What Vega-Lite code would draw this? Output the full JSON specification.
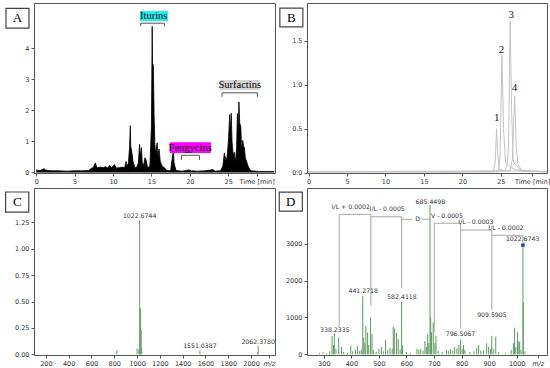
{
  "$schema": "https://vega.github.io/schema/vega-lite/v6.json",
  "padding": {"left": 4, "top": 2, "right": 0, "bottom": 0},
  "background": "white",
  "config": {
    "view": {"stroke": "#555", "strokeWidth": 1},
    "axis": {"labelFont": "DejaVu Sans", "labelFontSize": 6.5, "labelColor": "#333", "tickColor": "#555", "tickSize": 3, "domain": false, "grid": false, "title": null, "labelPadding": 2}
  },
  "bounds": "flush",
  "columns": 2,
  "spacing": {"row": 15, "column": 32},
  "concat": [
        {
          "width": 241, "height": 170,
          "encoding": {
            "x": {"field": "x", "type": "quantitative", "scale": {"domain": [-0.3, 31.1], "nice": false, "zero": false},
                  "axis": {"values": [0, 5, 10, 15, 20, 25, 28.7], "labelExpr": "datum.value > 28 ? 'Time [min]' : datum.label"}},
            "y": {"field": "y", "type": "quantitative", "scale": {"domain": [-0.02, 5.45], "nice": false, "zero": false},
                  "axis": {"values": [0, 1, 2, 3, 4], "format": "d"}}
          },
          "layer": [
            {
              "data": {"values": [
                {"x": 0.0, "y": 0.08}, {"x": 0.3, "y": 0.06}, {"x": 0.6, "y": 0.07}, {"x": 1.0, "y": 0.12}, {"x": 1.2, "y": 0.08}, {"x": 1.6, "y": 0.06}, {"x": 2.0, "y": 0.05}, {"x": 3.0, "y": 0.05}, {"x": 4.0, "y": 0.04}, {"x": 5.0, "y": 0.05}, {"x": 6.0, "y": 0.05}, {"x": 6.8, "y": 0.06},
                {"x": 7.1, "y": 0.12}, {"x": 7.4, "y": 0.15}, {"x": 7.7, "y": 0.3}, {"x": 7.9, "y": 0.15}, {"x": 8.3, "y": 0.17}, {"x": 8.7, "y": 0.15}, {"x": 9.0, "y": 0.18}, {"x": 9.3, "y": 0.15}, {"x": 9.6, "y": 0.22}, {"x": 9.8, "y": 0.15}, {"x": 10.2, "y": 0.25}, {"x": 10.4, "y": 0.14}, {"x": 10.8, "y": 0.15}, {"x": 11.2, "y": 0.17}, {"x": 11.5, "y": 0.15}, {"x": 11.7, "y": 0.35}, {"x": 11.8, "y": 0.18}, {"x": 12.0, "y": 0.3},
                {"x": 12.15, "y": 0.8}, {"x": 12.25, "y": 1.5}, {"x": 12.3, "y": 0.85}, {"x": 12.45, "y": 0.65}, {"x": 12.6, "y": 0.35}, {"x": 12.8, "y": 0.2}, {"x": 13.0, "y": 0.12}, {"x": 13.3, "y": 0.3}, {"x": 13.45, "y": 0.9}, {"x": 13.55, "y": 0.5}, {"x": 13.7, "y": 0.8}, {"x": 13.8, "y": 0.3}, {"x": 14.0, "y": 0.25}, {"x": 14.15, "y": 0.47}, {"x": 14.3, "y": 0.4}, {"x": 14.5, "y": 0.15}, {"x": 14.8, "y": 0.2},
                {"x": 15.0, "y": 1.5}, {"x": 15.1, "y": 4.7}, {"x": 15.15, "y": 3.5}, {"x": 15.25, "y": 3.45}, {"x": 15.35, "y": 1.8}, {"x": 15.45, "y": 0.9}, {"x": 15.55, "y": 0.6}, {"x": 15.75, "y": 0.95}, {"x": 15.85, "y": 0.5}, {"x": 16.0, "y": 0.75}, {"x": 16.15, "y": 0.35}, {"x": 16.4, "y": 0.2}, {"x": 16.7, "y": 0.15}, {"x": 17.0, "y": 0.06}, {"x": 17.5, "y": 0.05}, {"x": 17.85, "y": 0.72}, {"x": 17.95, "y": 0.3}, {"x": 18.2, "y": 0.06},
                {"x": 19.0, "y": 0.04}, {"x": 19.9, "y": 0.08}, {"x": 20.2, "y": 0.05}, {"x": 21.0, "y": 0.04}, {"x": 22.0, "y": 0.05}, {"x": 23.0, "y": 0.09}, {"x": 23.3, "y": 0.04}, {"x": 24.0, "y": 0.05}, {"x": 24.3, "y": 0.2}, {"x": 24.5, "y": 0.63}, {"x": 24.6, "y": 0.5}, {"x": 24.75, "y": 0.35}, {"x": 24.9, "y": 0.6}, {"x": 25.05, "y": 1.1}, {"x": 25.2, "y": 1.86}, {"x": 25.3, "y": 1.3}, {"x": 25.4, "y": 1.9}, {"x": 25.5, "y": 1.0}, {"x": 25.65, "y": 0.55}, {"x": 25.8, "y": 0.65}, {"x": 25.95, "y": 0.3},
                {"x": 26.1, "y": 0.8}, {"x": 26.2, "y": 1.89}, {"x": 26.3, "y": 1.3}, {"x": 26.4, "y": 2.27}, {"x": 26.5, "y": 1.6}, {"x": 26.65, "y": 1.45}, {"x": 26.75, "y": 0.7}, {"x": 26.9, "y": 1.03}, {"x": 27.0, "y": 0.85}, {"x": 27.1, "y": 0.8}, {"x": 27.25, "y": 0.45}, {"x": 27.4, "y": 0.35}, {"x": 27.6, "y": 0.2}, {"x": 27.8, "y": 0.1}, {"x": 28.0, "y": 0.05}, {"x": 29.0, "y": 0.03}, {"x": 30.0, "y": 0.03}, {"x": 31.0, "y": 0.03}
              ]},
              "layer": [
                {"mark": {"type": "area", "color": "black", "opacity": 1}, "encoding": {}},
                {"mark": {"type": "line", "color": "black", "strokeWidth": 0.8}, "encoding": {}}
              ]
            },
            {
              "data": {"values": [
                {"x": 13.5, "x2": 17.15, "y": 4.87, "y2": 5.19, "label": "Iturins"},
                {"x": 17.4, "x2": 22.75, "y": 0.62, "y2": 0.97, "label": "Fengycins"},
                {"x": 23.9, "x2": 29.1, "y": 2.65, "y2": 2.97, "label": "Surfactins"}
              ]},
              "mark": {"type": "rect"},
              "encoding": {
                "x2": {"field": "x2"}, "y2": {"field": "y2"},
                "color": {"field": "label", "type": "nominal", "legend": null, "scale": {"domain": ["Iturins", "Fengycins", "Surfactins"], "range": ["#19f0f0", "#ff00ff", "#d4d4d4"]}}
              }
            },
            {
              "data": {"values": [
                {"x": 13.6, "x2": 13.6, "y": 4.7, "y2": 4.8}, {"x": 13.6, "x2": 16.7, "y": 4.8, "y2": 4.8}, {"x": 16.7, "x2": 16.7, "y": 4.7, "y2": 4.8},
                {"x": 18.9, "x2": 18.9, "y": 0.4, "y2": 0.55}, {"x": 18.9, "x2": 21.25, "y": 0.55, "y2": 0.55}, {"x": 21.25, "x2": 21.25, "y": 0.4, "y2": 0.55},
                {"x": 24.2, "x2": 24.2, "y": 2.43, "y2": 2.56}, {"x": 24.2, "x2": 28.8, "y": 2.56, "y2": 2.56}, {"x": 28.8, "x2": 28.8, "y": 2.43, "y2": 2.56}
              ]},
              "mark": {"type": "rule", "color": "#555", "strokeWidth": 1},
              "encoding": {"x2": {"field": "x2"}, "y2": {"field": "y2"}}
            },
            {
              "data": {"values": [
                {"x": 15.3, "y": 5.03, "label": "Iturins"},
                {"x": 20.05, "y": 0.79, "label": "Fengycins"},
                {"x": 26.5, "y": 2.81, "label": "Surfactins"}
              ]},
              "mark": {"type": "text", "font": "Liberation Serif", "fontSize": 10.5, "color": "black", "baseline": "middle", "align": "center"},
              "encoding": {"text": {"field": "label"}}
            },
            {
              "data": {"values": [{"x": -3.95, "x2": -0.95, "y": 4.64, "y2": 5.28}]},
              "mark": {"type": "rect", "fill": "white", "stroke": "#444", "strokeWidth": 1.2},
              "encoding": {"x2": {"field": "x2"}, "y2": {"field": "y2"}}
            },
            {
              "data": {"values": [{"x": -2.45, "y": 4.96, "label": "A"}]},
              "mark": {"type": "text", "font": "Liberation Serif", "fontSize": 13, "color": "black", "baseline": "middle", "align": "center"},
              "encoding": {"text": {"field": "label"}}
            }
          ]
        },
        {
          "width": 240, "height": 170,
          "encoding": {
            "x": {"field": "x", "type": "quantitative", "scale": {"domain": [-0.2, 31.0], "nice": false, "zero": false},
                  "axis": {"values": [0, 5, 10, 15, 20, 25, 29.06], "labelExpr": "datum.value > 28 ? 'Time [min]' : datum.label"}},
            "y": {"field": "y", "type": "quantitative", "scale": {"domain": [-0.004, 1.928], "nice": false, "zero": false},
                  "axis": {"values": [0, 0.5, 1.0, 1.5], "format": ".1f"}}
          },
          "layer": [
            {
              "data": {"values": [
                {"trace": "1", "x": 0, "y": 0.01}, {"trace": "1", "x": 8, "y": 0.012}, {"trace": "1", "x": 16, "y": 0.008}, {"trace": "1", "x": 24.0, "y": 0.01}, {"trace": "1", "x": 24.25, "y": 0.1}, {"trace": "1", "x": 24.45, "y": 0.5}, {"trace": "1", "x": 24.6, "y": 0.2}, {"trace": "1", "x": 24.8, "y": 0.04}, {"trace": "1", "x": 25.5, "y": 0.02}, {"trace": "1", "x": 26.5, "y": 0.02}, {"trace": "1", "x": 31, "y": 0.01},
                {"trace": "2", "x": 0, "y": 0.008}, {"trace": "2", "x": 12, "y": 0.01}, {"trace": "2", "x": 24.7, "y": 0.01}, {"trace": "2", "x": 24.9, "y": 0.2}, {"trace": "2", "x": 25.15, "y": 1.33}, {"trace": "2", "x": 25.35, "y": 0.5}, {"trace": "2", "x": 25.6, "y": 0.12}, {"trace": "2", "x": 25.8, "y": 0.1}, {"trace": "2", "x": 26.0, "y": 0.08}, {"trace": "2", "x": 26.3, "y": 0.06}, {"trace": "2", "x": 27.0, "y": 0.03}, {"trace": "2", "x": 31, "y": 0.01},
                {"trace": "3", "x": 0, "y": 0.012}, {"trace": "3", "x": 20, "y": 0.01}, {"trace": "3", "x": 25.5, "y": 0.02}, {"trace": "3", "x": 25.8, "y": 0.08}, {"trace": "3", "x": 26.0, "y": 0.3}, {"trace": "3", "x": 26.2, "y": 1.72}, {"trace": "3", "x": 26.4, "y": 0.7}, {"trace": "3", "x": 26.6, "y": 0.15}, {"trace": "3", "x": 26.8, "y": 0.1}, {"trace": "3", "x": 27.0, "y": 0.08}, {"trace": "3", "x": 27.3, "y": 0.06}, {"trace": "3", "x": 27.6, "y": 0.02}, {"trace": "3", "x": 31, "y": 0.01},
                {"trace": "4", "x": 0, "y": 0.01}, {"trace": "4", "x": 26.2, "y": 0.02}, {"trace": "4", "x": 26.5, "y": 0.15}, {"trace": "4", "x": 26.8, "y": 0.87}, {"trace": "4", "x": 27.0, "y": 0.3}, {"trace": "4", "x": 27.2, "y": 0.1}, {"trace": "4", "x": 27.4, "y": 0.07}, {"trace": "4", "x": 27.7, "y": 0.02}, {"trace": "4", "x": 31, "y": 0.01}
              ]},
              "mark": {"type": "line", "color": "#c4c4c4", "strokeWidth": 1},
              "encoding": {"detail": {"field": "trace"}}
            },
            {
              "data": {"values": [
                {"x": 24.46, "y": 0.62, "label": "1"}, {"x": 25.1, "y": 1.39, "label": "2"}, {"x": 26.35, "y": 1.79, "label": "3"}, {"x": 26.78, "y": 0.96, "label": "4"}
              ]},
              "mark": {"type": "text", "font": "Liberation Serif", "fontSize": 11, "color": "#222", "baseline": "middle", "align": "center"},
              "encoding": {"text": {"field": "label"}}
            },
            {
              "data": {"values": [{"x": -3.73, "x2": -0.74, "y": 1.656, "y2": 1.87}]},
              "mark": {"type": "rect", "fill": "white", "stroke": "#444", "strokeWidth": 1.2},
              "encoding": {"x2": {"field": "x2"}, "y2": {"field": "y2"}}
            },
            {
              "data": {"values": [{"x": -2.23, "y": 1.76, "label": "B"}]},
              "mark": {"type": "text", "font": "Liberation Serif", "fontSize": 13, "color": "black", "baseline": "middle", "align": "center"},
              "encoding": {"text": {"field": "label"}}
            }
          ]
        },
        {
          "width": 241, "height": 167,
          "encoding": {
            "x": {"field": "x", "type": "quantitative", "scale": {"domain": [96, 2210], "nice": false, "zero": false},
                  "axis": {"values": [200, 400, 600, 800, 1000, 1200, 1400, 1600, 1800, 2000, 2157], "labelExpr": "datum.value > 2100 ? 'm/z' : datum.value",
                           "labelFontStyle": {"condition": {"test": "datum.value > 2100", "value": "italic"}, "value": "normal"}}},
            "y": {"field": "y", "type": "quantitative", "scale": {"domain": [-0.0066, 1.575], "nice": false, "zero": false},
                  "axis": {"values": [0, 0.25, 0.5, 0.75, 1.0, 1.25], "format": ".2f"}}
          },
          "layer": [
            {
              "data": {"values": [
                {"x": 823, "y": 0.04}, {"x": 1000, "y": 0.057}, {"x": 1016, "y": 0.05}, {"x": 1022.67, "y": 1.27}, {"x": 1028, "y": 0.44}, {"x": 1031, "y": 0.43}, {"x": 1036, "y": 0.23}, {"x": 1041, "y": 0.06}, {"x": 1551.04, "y": 0.036}, {"x": 2058, "y": 0.02}, {"x": 2062.38, "y": 0.08}
              ]},
              "mark": {"type": "rule", "color": "#6f9c72", "strokeWidth": 1},
              "encoding": {"y2": {"datum": 0}}
            },
            {
              "data": {"values": [
                {"x": 1022.67, "y": 1.31, "label": "1022.6744"}, {"x": 1551.04, "y": 0.076, "label": "1551.0387"}, {"x": 2062.38, "y": 0.12, "label": "2062.3780"}
              ]},
              "mark": {"type": "text", "font": "DejaVu Sans", "fontSize": 6.2, "color": "#333", "baseline": "middle", "align": "center"},
              "encoding": {"text": {"field": "label"}}
            },
            {
              "data": {"values": [{"x": -153, "x2": 50, "y": 1.347, "y2": 1.537}]},
              "mark": {"type": "rect", "fill": "white", "stroke": "#444", "strokeWidth": 1.2},
              "encoding": {"x2": {"field": "x2"}, "y2": {"field": "y2"}}
            },
            {
              "data": {"values": [{"x": -51, "y": 1.44, "label": "C"}]},
              "mark": {"type": "text", "font": "Liberation Serif", "fontSize": 13, "color": "black", "baseline": "middle", "align": "center"},
              "encoding": {"text": {"field": "label"}}
            }
          ]
        },
        {
          "width": 240, "height": 167,
          "encoding": {
            "x": {"field": "x", "type": "quantitative", "scale": {"domain": [239, 1110], "nice": false, "zero": false},
                  "axis": {"values": [300, 400, 500, 600, 700, 800, 900, 1000, 1076], "labelExpr": "datum.value > 1050 ? 'm/z' : datum.value",
                           "labelFontStyle": {"condition": {"test": "datum.value > 1050", "value": "italic"}, "value": "normal"}}},
            "y": {"field": "y", "type": "quantitative", "scale": {"domain": [-19, 4510], "nice": false, "zero": false},
                  "axis": {"values": [0, 1000, 2000, 3000], "format": "d"}}
          },
          "layer": [
            {
              "data": {"values": [
                {"x": 356, "x2": 356, "y": 750, "y2": 3794}, {"x": 356, "x2": 470.7, "y": 3794, "y2": 3794}, {"x": 470.7, "x2": 470.7, "y": 1310, "y2": 3794},
                {"x": 470.7, "x2": 582.4, "y": 3730, "y2": 3730}, {"x": 582.4, "x2": 582.4, "y": 1800, "y2": 3730},
                {"x": 582.4, "x2": 622, "y": 3660, "y2": 3660}, {"x": 655, "x2": 685.45, "y": 3660, "y2": 3660},
                {"x": 701, "x2": 701, "y": 600, "y2": 3553}, {"x": 701, "x2": 796.5, "y": 3553, "y2": 3553},
                {"x": 796.5, "x2": 796.5, "y": 700, "y2": 3553}, {"x": 796.5, "x2": 909.6, "y": 3371, "y2": 3371},
                {"x": 909.6, "x2": 909.6, "y": 1200, "y2": 3371}, {"x": 909.6, "x2": 1022.67, "y": 3227, "y2": 3227},
                {"x": 1022.67, "x2": 1022.67, "y": 2960, "y2": 3227}
              ]},
              "mark": {"type": "rule", "color": "#b4b4b4", "strokeWidth": 1.2},
              "encoding": {"x2": {"field": "x2"}, "y2": {"field": "y2"}}
            },
            {
              "data": {"values": [
                {"x": 285, "y": 40}, {"x": 297, "y": 60}, {"x": 310, "y": 30}, {"x": 322, "y": 80}, {"x": 330, "y": 500}, {"x": 335, "y": 250}, {"x": 338.23, "y": 560}, {"x": 344, "y": 150}, {"x": 354, "y": 450}, {"x": 364, "y": 200}, {"x": 372, "y": 60}, {"x": 386, "y": 40}, {"x": 398, "y": 230}, {"x": 405, "y": 80}, {"x": 415, "y": 120}, {"x": 422, "y": 230}, {"x": 430, "y": 90}, {"x": 436, "y": 120},
                {"x": 441.27, "y": 1580}, {"x": 445, "y": 450}, {"x": 449, "y": 300}, {"x": 452.6, "y": 770}, {"x": 459, "y": 590}, {"x": 463, "y": 250}, {"x": 469.6, "y": 1000}, {"x": 475, "y": 550}, {"x": 480, "y": 120}, {"x": 490, "y": 70}, {"x": 500, "y": 150}, {"x": 509, "y": 200}, {"x": 516, "y": 80}, {"x": 524, "y": 380}, {"x": 532, "y": 120}, {"x": 540, "y": 180}, {"x": 548, "y": 150}, {"x": 552, "y": 750}, {"x": 556, "y": 700}, {"x": 564, "y": 590}, {"x": 570, "y": 410}, {"x": 577, "y": 130}, {"x": 582.41, "y": 1420}, {"x": 586, "y": 250}, {"x": 600, "y": 60}, {"x": 615, "y": 40},
                {"x": 638, "y": 150}, {"x": 645, "y": 120}, {"x": 652, "y": 140}, {"x": 660, "y": 100}, {"x": 667, "y": 360}, {"x": 672, "y": 200}, {"x": 677, "y": 540}, {"x": 681, "y": 300}, {"x": 685.45, "y": 4050}, {"x": 688, "y": 1000}, {"x": 691, "y": 600}, {"x": 697, "y": 860}, {"x": 703, "y": 300}, {"x": 707, "y": 500}, {"x": 715, "y": 100}, {"x": 730, "y": 60}, {"x": 745, "y": 120}, {"x": 752, "y": 100}, {"x": 760, "y": 140}, {"x": 768, "y": 100}, {"x": 775, "y": 200}, {"x": 783, "y": 160}, {"x": 790, "y": 250}, {"x": 796.5, "y": 400}, {"x": 802, "y": 150}, {"x": 807, "y": 250}, {"x": 812, "y": 120},
                {"x": 830, "y": 60}, {"x": 845, "y": 80}, {"x": 855, "y": 170}, {"x": 862, "y": 250}, {"x": 870, "y": 100}, {"x": 880, "y": 120}, {"x": 891, "y": 300}, {"x": 898, "y": 200}, {"x": 905, "y": 150}, {"x": 909.6, "y": 500}, {"x": 915, "y": 150}, {"x": 924, "y": 480}, {"x": 935, "y": 60}, {"x": 960, "y": 40}, {"x": 980, "y": 120}, {"x": 988, "y": 300}, {"x": 992, "y": 720}, {"x": 997, "y": 200}, {"x": 1003, "y": 600}, {"x": 1008, "y": 350}, {"x": 1011, "y": 340}, {"x": 1016, "y": 120}, {"x": 1022.67, "y": 2960}, {"x": 1024, "y": 1400}, {"x": 1030, "y": 80}
              ]},
              "mark": {"type": "rule", "color": "#5f9a62", "strokeWidth": 1},
              "encoding": {"y2": {"datum": 0}}
            },
            {
              "data": {"values": [{"x": 1022.67, "y": 2960}]},
              "mark": {"type": "square", "color": "#1a3fd0", "size": 12, "opacity": 1},
              "encoding": {}
            },
            {
              "data": {"values": [
                {"x": 398, "y": 3995, "label": "I/L + 0.0002"},
                {"x": 530, "y": 3932, "label": "I/L - 0.0005"},
                {"x": 640.6, "y": 3661, "label": "D"},
                {"x": 686.8, "y": 4139, "label": "685.4498"},
                {"x": 747, "y": 3751, "label": "V - 0.0005"},
                {"x": 852, "y": 3588, "label": "I/L - 0.0003"},
                {"x": 961, "y": 3417, "label": "I/L - 0.0002"},
                {"x": 1021.6, "y": 3135, "label": "1022.6743"},
                {"x": 340, "y": 660, "label": "338.2335"},
                {"x": 443, "y": 1716, "label": "441.2718"},
                {"x": 583.6, "y": 1545, "label": "582.4118"},
                {"x": 796, "y": 542, "label": "796.5067"},
                {"x": 910, "y": 1066, "label": "909.5905"}
              ]},
              "mark": {"type": "text", "font": "DejaVu Sans", "fontSize": 6.2, "color": "#333", "baseline": "middle", "align": "center"},
              "encoding": {"text": {"field": "label"}}
            },
            {
              "data": {"values": [{"x": 138.4, "x2": 222, "y": 3883, "y2": 4398}]},
              "mark": {"type": "rect", "fill": "white", "stroke": "#444", "strokeWidth": 1.2},
              "encoding": {"x2": {"field": "x2"}, "y2": {"field": "y2"}}
            },
            {
              "data": {"values": [{"x": 180, "y": 4140, "label": "D"}]},
              "mark": {"type": "text", "font": "Liberation Serif", "fontSize": 13, "color": "black", "baseline": "middle", "align": "center"},
              "encoding": {"text": {"field": "label"}}
            }
          ]
        }
  ]
}
